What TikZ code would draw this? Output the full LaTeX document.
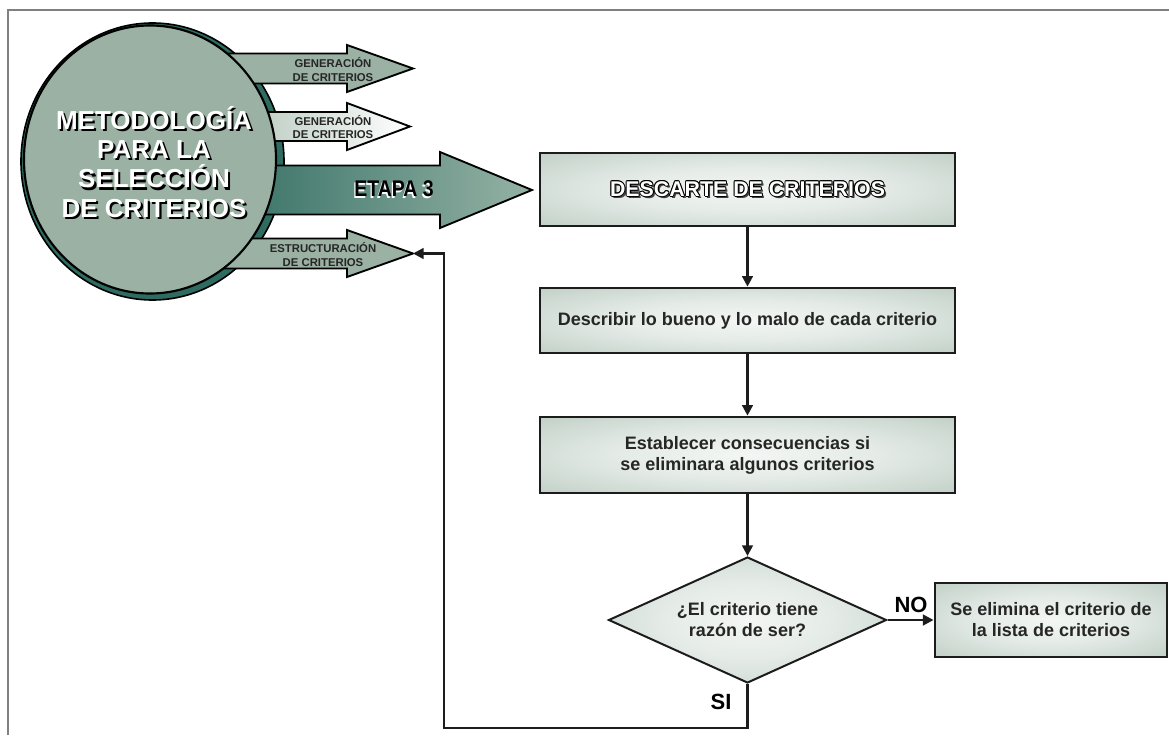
\documentclass[tikz,border=0pt]{standalone}
\usepackage{fontspec}
\setmainfont{Liberation Sans}
\usepackage{graphicx}
\usetikzlibrary{shapes.geometric,arrows.meta}

\definecolor{sage}{HTML}{9AB1A3}
\definecolor{ringteal}{HTML}{2E6B60}
\definecolor{deepteal}{HTML}{2F6B61}
\definecolor{paleteal}{HTML}{94B2A4}
\definecolor{palesage}{HTML}{A6BCAF}
\definecolor{panelhi}{HTML}{F3F6F4}
\definecolor{panello}{HTML}{A8BDB0}
\definecolor{edge}{HTML}{1C1C1C}
\definecolor{darktext}{HTML}{262626}
\definecolor{framegray}{HTML}{808080}

\pgfdeclareradialshading{panelshade}{\pgfpoint{0bp}{0bp}}{%
  color(0bp)=(panelhi); color(16bp)=(panelhi!80!panello);
  color(50bp)=(panello); color(75bp)=(panello)}

% text with an offset copy behind it: shadow colour, fill colour, dx, dy, text
\newcommand\shadowed[5]{\leavevmode
  \rlap{\kern#3\raisebox{#4}{\color{#1}#5}}{\color{#2}#5}}

% white letters ringed in black, with a drop shadow
\newcommand\outlined[1]{\leavevmode
  \rlap{\kern1.5pt\raisebox{-1.5pt}{\color{black!75}#1}}%
  \rlap{\kern0.7pt\color{black}#1}%
  \rlap{\kern-0.7pt\color{black}#1}%
  \rlap{\raisebox{0.7pt}{\color{black}#1}}%
  \rlap{\raisebox{-0.7pt}{\color{black}#1}}%
  \rlap{\kern0.5pt\raisebox{0.5pt}{\color{black}#1}}%
  \rlap{\kern-0.5pt\raisebox{0.5pt}{\color{black}#1}}%
  \rlap{\kern0.5pt\raisebox{-0.5pt}{\color{black}#1}}%
  \rlap{\kern-0.5pt\raisebox{-0.5pt}{\color{black}#1}}%
  {\color{white}#1}}

\begin{document}
\begin{tikzpicture}[x=0.75pt,y=-0.75pt,
  bigarrow/.style={draw=black, line width=1.4pt, line join=miter},
  smalltxt/.style={font=\bfseries\fontsize{8.5}{9.8}\selectfont, text=darktext,
    align=center, inner sep=0pt},
  panel/.style={draw=edge, line width=2pt, shade, shading=panelshade,
    inner sep=0pt, align=center, text=darktext,
    font=\bfseries\fontsize{13.5}{15.8}\selectfont},
  flow/.style={draw=edge, line width=1.9pt, line join=miter,
    -{Triangle[length=8pt,width=8pt]}},
  lbl/.style={font=\bfseries\fontsize{16.5}{18}\selectfont, inner sep=0pt}]

\useasboundingbox (0,0) rectangle (1169,735);

% page frame
\draw[framegray, line width=1.5pt] (8,735) -- (8,10.5) -- (1169,10.5);

% rear disc of the emblem
\draw[fill=ringteal, line width=1.2pt] (152.5,161.5) ellipse [x radius=131.5, y radius=138.5];

% stage arrows leaving the emblem
\path[bigarrow, fill=sage] (200,53.5) -- (347,53.5) -- (347,45) -- (413,68.5)
  -- (347,92) -- (347,83.5) -- (200,83.5) -- cycle;
\path[bigarrow, left color=palesage, right color=white] (200,112) -- (347,112)
  -- (347,103) -- (410,126.5) -- (347,150) -- (347,141) -- (200,141) -- cycle;
\path[bigarrow, left color=deepteal, right color=paleteal] (200,165.5) -- (440,165.5)
  -- (440,152) -- (532,190) -- (440,228) -- (440,214.5) -- (200,214.5) -- cycle;
\path[bigarrow, fill=sage] (200,238.5) -- (347,238.5) -- (347,230) -- (413,253.5)
  -- (347,277) -- (347,268.5) -- (200,268.5) -- cycle;

% front disc of the emblem
\draw[fill=sage, line width=1.6pt] (150,159.5) ellipse [x radius=126, y radius=134];

\node[font=\bfseries\fontsize{19.5}{22}\selectfont, align=center, inner sep=0pt]
  (title) at (154,163) {%
  \shadowed{black}{white}{1.6pt}{-1.6pt}{METODOLOGÍA}\\
  \shadowed{black}{white}{1.6pt}{-1.6pt}{PARA LA}\\
  \shadowed{black}{white}{1.6pt}{-1.6pt}{SELECCIÓN}\\
  \shadowed{black}{white}{1.6pt}{-1.6pt}{DE CRITERIOS}};

\node[smalltxt] (gen1) at (333,69.5) {GENERACIÓN\\DE CRITERIOS};
\node[smalltxt] (gen2) at (333,127) {GENERACIÓN\\DE CRITERIOS};
\node[smalltxt] (estr) at (323,254.5) {ESTRUCTURACIÓN\\DE CRITERIOS};
\node[font=\bfseries\fontsize{17}{19}\selectfont, inner sep=0pt] (etapa) at (394,190)
  {\scalebox{0.86}[1]{\shadowed{white}{black}{-1pt}{-1.3pt}{ETAPA 3}}};

% flow of stage 3
\node[panel, minimum width=415*0.75pt, minimum height=73*0.75pt,
  font=\bfseries\fontsize{16}{19}\selectfont] (descarte) at (747.5,189.5)
  {\outlined{DESCARTE DE CRITERIOS}};
\node[panel, minimum width=415*0.75pt, minimum height=65*0.75pt]
  (describir) at (747.5,320.5) {Describir lo bueno y lo malo de cada criterio};
\node[panel, minimum width=415*0.75pt, minimum height=76*0.75pt]
  (establecer) at (747.5,455) {Establecer consecuencias si\\se eliminara algunos criterios};
\node[panel, shape=diamond, shape aspect=2.2, line width=1.5pt,
  minimum width=278*0.75pt, minimum height=126*0.75pt]
  (razon) at (747.5,620) {¿El criterio tiene\\razón de ser?};
\node[panel, line width=2.2pt, minimum width=232*0.75pt, minimum height=74*0.75pt]
  (elimina) at (1051,620) {Se elimina el criterio de\\la lista de criterios};

\draw[flow] (descarte.south) -- (describir.north);
\draw[flow] (describir.south) -- (establecer.north);
\draw[flow] (establecer.south) -- (razon.north);
\draw[flow] (razon.east) -- (elimina.west);
\node[lbl] (no) at (911,605) {NO};

\coordinate (sicorner) at (444,728);
\coordinate (estrtip) at (413,253.5);
\draw[flow] (razon.south) |- (sicorner) |- (estrtip);
\node[lbl] (si) at (721,702) {SI};
\end{tikzpicture}
\end{document}
